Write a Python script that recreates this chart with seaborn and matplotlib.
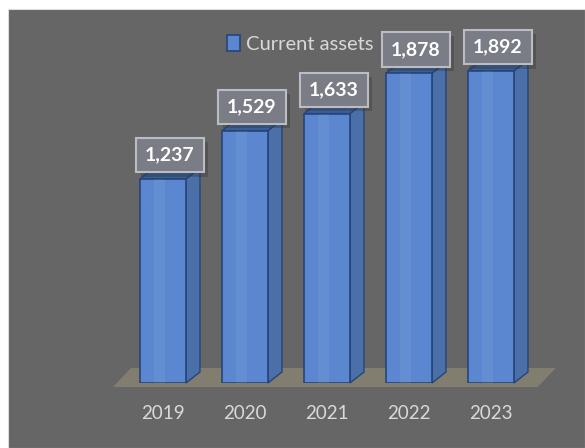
import matplotlib
matplotlib.use("Agg")
import matplotlib.pyplot as plt
import matplotlib.patheffects as pe
from matplotlib.patches import Polygon, Rectangle
import seaborn as sns
import pandas as pd

years = ["2019", "2020", "2021", "2022", "2023"]
current_assets = [1237, 1529, 1633, 1878, 1892]
series_name = "Current assets"

df = pd.DataFrame({"year": years, "value": current_assets})

sns.set_theme(style="white")
plt.rcParams["font.family"] = ["Lato", "DejaVu Sans"]

W, H = 585, 448
fig = plt.figure(figsize=(W / 100, H / 100), dpi=100)
fig.patch.set_facecolor("white")
fig.patches.append(Rectangle((8 / W, 0), 1 - 8 / W, 1 - 9 / H, transform=fig.transFigure,
                             facecolor="#666666", edgecolor="#d8dde4", lw=0.8, zorder=-10))

ax = fig.add_axes([122 / W, (H - 383) / H, 410 / W, (383 - 20) / H])
ax.set_facecolor("none")

front = "#5b87d0"
side = "#4a6fa9"
top = "#3c5f98"
edge = "#25457a"

sns.barplot(data=df, x="year", y="value", width=0.56, color=front, saturation=1,
            edgecolor=edge, linewidth=1.2, label=series_name, ax=ax, zorder=3)
ax.set_xlim(-0.5, 4.5)
ax.set_ylim(0, 2200)

# pixel -> data conversions for the depth of the 3D look
x0, y0 = ax.transData.transform((0, 0))
x1, y1 = ax.transData.transform((1, 1000))
px_x = x1 - x0
px_y = (y1 - y0) / 1000
ddx, ddy = 14 / px_x, 11 / px_y

# floor plane under the bars
fdx, fdy = 18 / px_x, 19 / px_y
fl, fr = -0.61, 4.57
fb = -4 / px_y
ax.add_patch(Polygon([(fl, fb), (fr, fb), (fr + fdx, fb + fdy), (fl + fdx, fb + fdy)],
                     closed=True, facecolor="#817e70", edgecolor="none", zorder=1,
                     clip_on=False))

for bar in ax.patches:
    if not hasattr(bar, "get_width") or bar.get_height() <= 0:
        continue
    xl = bar.get_x()
    w = bar.get_width()
    h = bar.get_height()
    xr = xl + w
    ax.add_patch(Polygon([(xr, 0), (xr + ddx, ddy), (xr + ddx, h + ddy), (xr, h)],
                         closed=True, facecolor=side, edgecolor=edge, lw=1.0, zorder=2.9,
                         clip_on=False))
    ax.add_patch(Polygon([(xl, h), (xr, h), (xr + ddx, h + ddy), (xl + ddx, h + ddy)],
                         closed=True, facecolor=top, edgecolor=edge, lw=1.0, zorder=2.9,
                         clip_on=False))
    # soft highlight band on the front face
    ax.add_patch(Rectangle((xl + w * 0.3, 0), w * 0.25, h, facecolor="white", alpha=0.06,
                           edgecolor="none", zorder=3.1))

for i, v in enumerate(current_assets):
    t = ax.annotate(f"{v:,}", xy=(i + ddx / 2, v + ddy), xytext=(0, 3),
                    textcoords="offset points", ha="center", va="bottom",
                    fontsize=14, fontweight="bold", color="white", zorder=6,
                    bbox=dict(boxstyle="square,pad=0.45", facecolor="#7b7d86",
                              edgecolor="#bcbdc3", lw=1.5))
    t.get_bbox_patch().set_path_effects([
        pe.SimplePatchShadow(offset=(3, -3), shadow_rgbFace="#333333", alpha=0.35),
        pe.Normal()])

ax.tick_params(axis="x", length=0, pad=16, labelsize=13.5, labelcolor="#d9d9d9")
ax.set_yticks([])
ax.set_xlabel("")
ax.set_ylabel("")
sns.despine(ax=ax, left=True, bottom=True)

leg = ax.legend(loc="center left", bbox_to_anchor=(227 / W, 1 - 44 / H),
                bbox_transform=fig.transFigure, frameon=False, fontsize=14.5,
                handlelength=0.65, handleheight=0.85, handletextpad=0.3,
                borderaxespad=0, borderpad=0)
for txt in leg.get_texts():
    txt.set_color("#d9d9d9")
leg.set_zorder(5)

fig.savefig("out.png", dpi=100, facecolor=fig.get_facecolor())
